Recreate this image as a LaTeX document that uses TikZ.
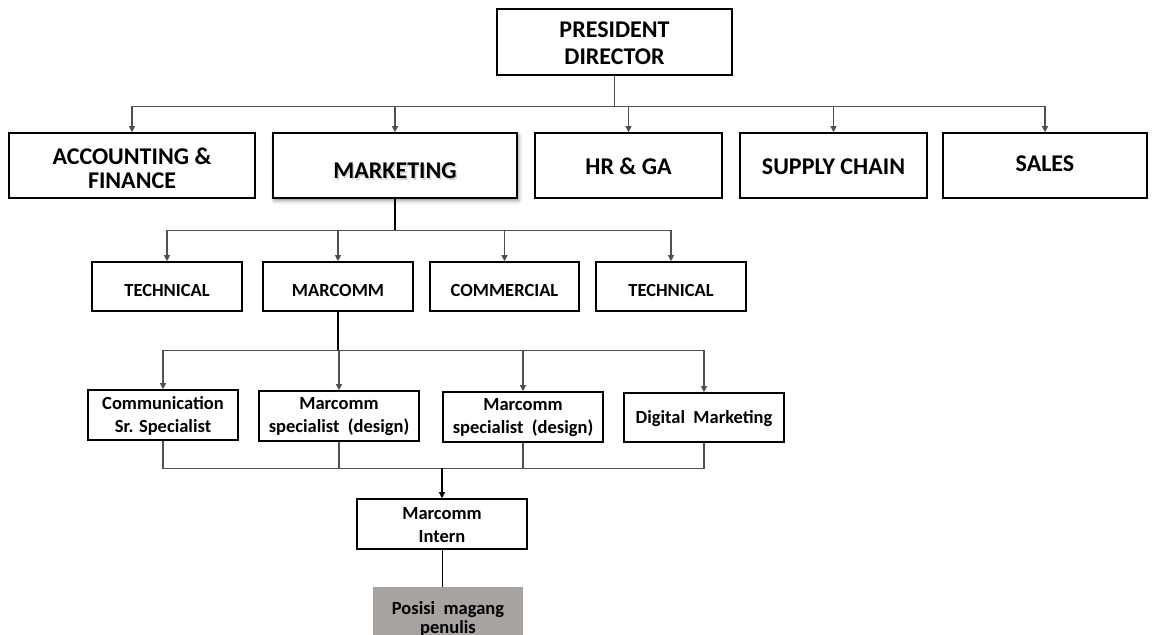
\documentclass[tikz,border=0pt]{standalone}
\usepackage{fontspec}
\setmainfont{Carlito}
\usetikzlibrary{arrows.meta,shadows.blur,calc}
\definecolor{linegray}{RGB}{80,80,80}
\definecolor{posgray}{RGB}{166,163,161}
\tikzset{
  unitbox/.style={draw=black, line width=1.6pt, fill=white, inner sep=0pt},
  lbl/.style={align=center, inner sep=0pt},
  toptxt/.style={font=\fontsize{24}{25}\selectfont\bfseries},
  midtxt/.style={font=\fontsize{18.5}{23}\selectfont\bfseries},
  conn/.style={draw=linegray, line width=1.1pt},
  arr/.style={conn, -{Triangle[length=6pt,width=6pt]}},
  stem/.style={draw=black, line width=1.3pt},
}
\begin{document}
\begin{tikzpicture}[x=1pt,y=-1pt]
\useasboundingbox (0,0) rectangle (1155,634);
\clip (0,0) rectangle (1155,634);

% ---- head
\node[unitbox, minimum width=235pt, minimum height=66pt] (pres) at (614.5,42) {};
\node[lbl, font=\fontsize{24}{27.5}\selectfont\bfseries] (pres-t) at ($(pres.center)+(0,1)$) {PRESIDENT\\DIRECTOR};

% ---- departments
\node[unitbox, minimum width=246pt, minimum height=65pt] (acc) at (132,165.5) {};
\node[lbl, font=\fontsize{24}{24.5}\selectfont\bfseries] (acc-t) at ($(acc.center)+(0,3)$) {ACCOUNTING \&\\FINANCE};

\node[unitbox, minimum width=244pt, minimum height=65pt,
      blur shadow={shadow xshift=1.5pt, shadow yshift=-2.5pt, shadow blur radius=4pt, shadow opacity=45}] (mkt) at (395,165.5) {};
\node[lbl, toptxt, text=black!40, opacity=0.4] (mkt-s) at ($(mkt.center)+(1.5,7.5)$) {MARKETING};
\node[lbl, toptxt] (mkt-t) at ($(mkt.center)+(0,5)$) {MARKETING};

\node[unitbox, minimum width=187pt, minimum height=65pt] (hr) at (628.5,165.5) {};
\node[lbl, toptxt] (hr-t) at ($(hr.center)+(0,1)$) {HR \& GA};

\node[unitbox, minimum width=187pt, minimum height=65pt] (sup) at (833.5,165.5) {};
\node[lbl, toptxt] (sup-t) at ($(sup.center)+(0,1)$) {SUPPLY CHAIN};

\node[unitbox, minimum width=204pt, minimum height=65pt] (sal) at (1045,165.5) {};
\node[lbl, toptxt] (sal-t) at ($(sal.center)+(0,-1.5)$) {SALES};

% ---- marketing sections
\node[unitbox, minimum width=150pt, minimum height=49pt] (tec1) at (167,286.5) {};
\node[lbl, midtxt] (tec1-t) at ($(tec1.center)+(0,4)$) {TECHNICAL};
\node[unitbox, minimum width=150pt, minimum height=49pt] (mrc) at (338,286.5) {};
\node[lbl, midtxt] (mrc-t) at ($(mrc.center)+(0,4)$) {MARCOMM};
\node[unitbox, minimum width=149pt, minimum height=49pt] (com) at (504.5,286.5) {};
\node[lbl, midtxt] (com-t) at ($(com.center)+(0,4)$) {COMMERCIAL};
\node[unitbox, minimum width=150pt, minimum height=49pt] (tec2) at (671,286.5) {};
\node[lbl, midtxt] (tec2-t) at ($(tec2.center)+(0,4)$) {TECHNICAL};

% ---- marcomm staff
\node[unitbox, minimum width=150pt, minimum height=50pt] (cs) at (163,415) {};
\node[lbl, midtxt] (cs-t) at ($(cs.center)+(0,1)$) {Communication\\Sr. Specialist};
\node[unitbox, minimum width=160pt, minimum height=50pt] (ms1) at (339,416) {};
\node[lbl, midtxt] (ms1-t) at ($(ms1.center)+(0,1)$) {Marcomm\\specialist\ \ (design)};
\node[unitbox, minimum width=160pt, minimum height=50pt] (ms2) at (523,417) {};
\node[lbl, midtxt] (ms2-t) at ($(ms2.center)+(0,1)$) {Marcomm\\specialist\ \ (design)};
\node[unitbox, minimum width=160pt, minimum height=49pt] (dm) at (704,417.5) {};
\node[lbl, midtxt] (dm-t) at ($(dm.center)+(0,1)$) {Digital\ \ Marketing};

% ---- intern
\node[unitbox, minimum width=170pt, minimum height=50pt] (int) at (442,524) {};
\node[lbl, midtxt] (int-t) at ($(int.center)+(0,1)$) {Marcomm\\Intern};

\node[fill=posgray, inner sep=0pt, minimum width=150pt, minimum height=50pt] (pos) at (448,612) {};
\node[lbl, font=\fontsize{18.5}{19}\selectfont\bfseries] (pos-t) at ($(pos.center)+(0,7)$) {Posisi\ \ magang\\penulis};

% ---- connectors
\coordinate (bus0) at ($(pres.south)+(0,31)$);
\draw[conn] (pres.south) -- (bus0);
\foreach \n in {acc,mkt,hr,sup,sal} \draw[arr] (bus0) -| (\n.north);

\coordinate (bus1) at ($(mkt.south)+(0,32)$);
\draw[stem] (mkt.south) -- (bus1);
\foreach \n in {tec1,mrc,com,tec2} \draw[arr] (bus1) -| (\n.north);

\coordinate (bus2) at ($(mrc.south)+(0,39)$);
\draw[stem] (mrc.south) -- (bus2);
\foreach \n in {cs,ms1,ms2,dm} \draw[arr] (bus2) -| (\n.north);

\coordinate (bus3) at ($(int.north)+(0,-30)$);
\foreach \n in {cs,ms1,ms2,dm} \draw[conn] (\n.south) |- (bus3);
\draw[arr, draw=black] (bus3) -- (int.north);

\draw[draw=black, line width=0.9pt] (int.south) -- (int.south |- pos.north);
\end{tikzpicture}
\end{document}
